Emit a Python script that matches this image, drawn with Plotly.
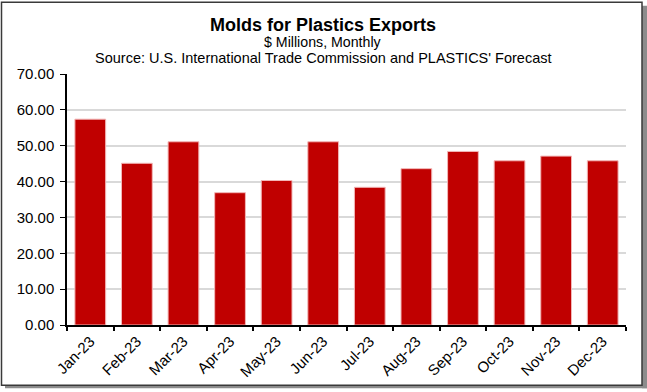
import plotly.graph_objects as go

months = ["Jan-23", "Feb-23", "Mar-23", "Apr-23", "May-23", "Jun-23",
          "Jul-23", "Aug-23", "Sep-23", "Oct-23", "Nov-23", "Dec-23"]
exports = [57.4, 45.1, 51.1, 36.9, 40.3, 51.1, 38.4, 43.6, 48.4, 45.8, 47.1, 45.8]

W, H = 647, 392
L, R, T, B = 67, 21, 74, 64
PW, PH = W - L - R, H - T - B

def px(x):
    return (x - L) / PW

def py(y):
    return (H - B - y) / PH

FONT = "Liberation Sans, Arial, sans-serif"

fig = go.Figure()
fig.add_trace(go.Bar(
    x=months, y=exports,
    marker=dict(color="#C00000", line=dict(color="#F2B6B6", width=1)),
))

annotations = [
    dict(text="<b>Molds for Plastics Exports</b>", x=px(323), y=py(24), size=18),
    dict(text="$ Millions, Monthly", x=px(323), y=py(42), size=14.2),
    dict(text="Source: U.S. International Trade Commission and PLASTICS' Forecast", x=px(323), y=py(58), size=14.5),
]
fig.update_layout(
    annotations=[dict(text=a["text"], x=a["x"], y=a["y"], xref="paper", yref="paper",
                      xanchor="center", yanchor="middle", showarrow=False,
                      font=dict(family=FONT, size=a["size"], color="black"))
                 for a in annotations],
)

shapes = [
    # shadow strips
    dict(type="rect", xref="paper", yref="paper", x0=px(642), x1=px(647), y0=py(5), y1=py(392),
         fillcolor="#8C8C8C", line=dict(width=0), layer="above"),
    dict(type="rect", xref="paper", yref="paper", x0=px(5), x1=px(647), y0=py(389), y1=py(392),
         fillcolor="#8C8C8C", line=dict(width=0), layer="above"),
    # border
    dict(type="rect", xref="paper", yref="paper", x0=px(1.5), x1=px(642), y0=py(1.5), y1=py(389),
         fillcolor="rgba(0,0,0,0)", line=dict(color="#3A3A3A", width=1.5), layer="above"),
]

fig.update_layout(
    width=W, height=H,
    margin=dict(l=L, r=R, t=T, b=B),
    paper_bgcolor="white", plot_bgcolor="white",
    showlegend=False,
    bargap=0.34,
    shapes=shapes,
    font=dict(family=FONT, color="black"),
    xaxis=dict(
        type="category", tickangle=-45, tickson="boundaries",
        ticks="outside", ticklen=4, tickcolor="black", tickwidth=1.5,
        showline=True, linecolor="black", linewidth=1.5,
        showgrid=False, tickfont=dict(family=FONT, size=15, color="black"),
    ),
    yaxis=dict(
        range=[0, 70], dtick=10, tickformat=".2f",
        ticks="outside", ticklen=5, tickcolor="black", tickwidth=1,
        showline=True, linecolor="black", linewidth=1.5,
        showgrid=True, gridcolor="#D9D9D9", gridwidth=1.5,
        zeroline=False, ticklabelstandoff=3,
        tickfont=dict(family=FONT, size=15, color="black"),
    ),
)

fig.write_html(
    "out.html",
    config={"displayModeBar": False},
    post_script="document.body.style.margin='0';document.body.style.overflow='hidden';",
)
